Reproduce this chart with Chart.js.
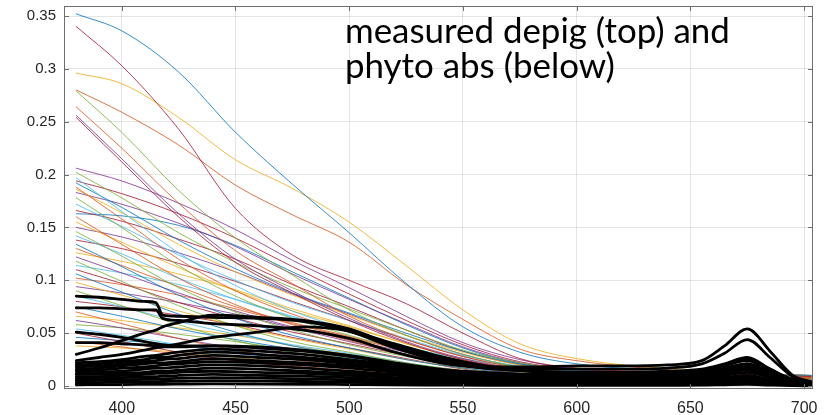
<!DOCTYPE html>
<html><head><meta charset="utf-8">
<script src="https://cdn.jsdelivr.net/npm/chart.js@4.4.0/dist/chart.umd.min.js"></script>
<style>html,body{margin:0;padding:0;background:#fff}#wrap{width:830px;height:415px;position:relative}</style>
</head><body><div id="wrap"><canvas id="c" width="830" height="415"></canvas></div>
<script>
// ---- data ----
const xTicks = [400, 450, 500, 550, 600, 650, 700];
const yTicks = [0, 0.05, 0.1, 0.15, 0.2, 0.25, 0.3, 0.35];
const yTickLabels = ["0", "0.05", "0.1", "0.15", "0.2", "0.25", "0.3", "0.35"];
const annotationLines = ["measured depig (top) and", "phyto abs (below)"];

// depigmented absorption (coloured lines)
const depigWl = [380, 400, 425, 450, 475, 500, 525, 550, 575, 600, 650, 703];
const depigTop = [
  [0.352,0.336,0.297,0.240,0.191,0.145,0.097,0.056,0.032,0.021,0.014,0.010],
  [0.340,0.303,0.243,0.168,0.124,0.100,0.078,0.050,0.026,0.017,0.013,0.009],
  [0.296,0.286,0.254,0.214,0.187,0.155,0.114,0.072,0.040,0.026,0.015,0.010],
  [0.280,0.259,0.228,0.190,0.162,0.136,0.096,0.063,0.035,0.024,0.014,0.009],
  [0.279,0.240,0.185,0.140,0.105,0.072,0.048,0.030,0.018,0.012,0.008,0.006],
  [0.264,0.225,0.173,0.128,0.097,0.066,0.044,0.028,0.017,0.011,0.008,0.006],
  [0.256,0.215,0.163,0.120,0.090,0.064,0.042,0.026,0.016,0.011,0.008,0.006],
  [0.254,0.212,0.160,0.117,0.088,0.062,0.041,0.025,0.015,0.010,0.007,0.005]
];
const depigMass = [
  [0.206,0.194,0.173,0.148,0.119,0.093,0.066,0.041,0.025,0.016,0.012,0.010],
  [0.202,0.178,0.145,0.117,0.093,0.073,0.053,0.034,0.022,0.016,0.012,0.010],
  [0.197,0.165,0.126,0.095,0.071,0.053,0.037,0.026,0.018,0.014,0.010,0.009],
  [0.194,0.182,0.163,0.140,0.113,0.087,0.062,0.039,0.023,0.016,0.012,0.010],
  [0.192,0.169,0.138,0.111,0.088,0.069,0.050,0.033,0.021,0.015,0.012,0.010],
  [0.188,0.158,0.120,0.090,0.068,0.051,0.036,0.024,0.017,0.013,0.009,0.008],
  [0.186,0.164,0.134,0.108,0.086,0.067,0.048,0.032,0.020,0.015,0.011,0.009],
  [0.183,0.172,0.154,0.132,0.106,0.082,0.059,0.037,0.022,0.015,0.011,0.009],
  [0.178,0.150,0.114,0.085,0.064,0.048,0.034,0.023,0.016,0.012,0.009,0.008],
  [0.172,0.151,0.124,0.100,0.079,0.062,0.045,0.029,0.019,0.014,0.010,0.009],
  [0.166,0.156,0.139,0.120,0.096,0.075,0.053,0.033,0.020,0.013,0.010,0.008],
  [0.163,0.161,0.152,0.133,0.108,0.083,0.058,0.036,0.021,0.014,0.010,0.008],
  [0.160,0.134,0.102,0.077,0.058,0.043,0.030,0.021,0.014,0.011,0.008,0.007],
  [0.155,0.136,0.112,0.090,0.071,0.056,0.040,0.026,0.017,0.012,0.009,0.008],
  [0.150,0.141,0.126,0.108,0.087,0.068,0.048,0.030,0.018,0.012,0.009,0.008],
  [0.146,0.123,0.093,0.070,0.053,0.039,0.028,0.019,0.013,0.010,0.007,0.007],
  [0.142,0.125,0.102,0.082,0.065,0.051,0.037,0.024,0.016,0.011,0.009,0.007],
  [0.138,0.130,0.116,0.099,0.080,0.062,0.044,0.028,0.017,0.011,0.008,0.007],
  [0.134,0.113,0.086,0.064,0.048,0.036,0.025,0.017,0.012,0.009,0.007,0.006],
  [0.130,0.114,0.094,0.075,0.060,0.047,0.034,0.022,0.014,0.010,0.008,0.007],
  [0.126,0.118,0.106,0.091,0.073,0.057,0.040,0.025,0.015,0.010,0.008,0.006],
  [0.122,0.107,0.088,0.071,0.056,0.044,0.032,0.021,0.013,0.010,0.007,0.006],
  [0.118,0.099,0.076,0.057,0.042,0.032,0.022,0.015,0.011,0.008,0.006,0.005],
  [0.114,0.107,0.096,0.082,0.066,0.051,0.036,0.023,0.014,0.009,0.007,0.006],
  [0.110,0.097,0.079,0.064,0.051,0.040,0.029,0.019,0.012,0.009,0.007,0.006],
  [0.106,0.089,0.068,0.051,0.038,0.029,0.020,0.014,0.010,0.007,0.005,0.005],
  [0.102,0.096,0.086,0.073,0.059,0.046,0.033,0.020,0.012,0.008,0.006,0.005],
  [0.098,0.086,0.071,0.057,0.045,0.035,0.025,0.017,0.011,0.008,0.006,0.005],
  [0.094,0.088,0.079,0.068,0.055,0.042,0.030,0.019,0.011,0.008,0.006,0.005],
  [0.090,0.076,0.058,0.043,0.032,0.024,0.017,0.012,0.008,0.006,0.005,0.004],
  [0.085,0.075,0.061,0.049,0.039,0.031,0.022,0.014,0.009,0.007,0.005,0.004],
  [0.080,0.075,0.067,0.058,0.046,0.036,0.026,0.016,0.010,0.006,0.005,0.004],
  [0.075,0.066,0.054,0.044,0.035,0.027,0.020,0.013,0.008,0.006,0.005,0.004],
  [0.070,0.059,0.045,0.034,0.025,0.019,0.013,0.009,0.006,0.005,0.004,0.003],
  [0.066,0.062,0.055,0.048,0.038,0.030,0.021,0.013,0.008,0.005,0.004,0.003],
  [0.062,0.055,0.045,0.036,0.029,0.022,0.016,0.011,0.007,0.005,0.004,0.003],
  [0.058,0.055,0.049,0.042,0.034,0.026,0.019,0.012,0.007,0.005,0.003,0.003],
  [0.054,0.048,0.039,0.031,0.025,0.019,0.014,0.009,0.006,0.004,0.003,0.003],
  [0.050,0.042,0.032,0.024,0.018,0.014,0.010,0.007,0.005,0.004,0.003,0.002],
  [0.046,0.043,0.039,0.033,0.027,0.021,0.015,0.009,0.006,0.004,0.003,0.002],
  [0.042,0.037,0.030,0.024,0.019,0.015,0.011,0.007,0.005,0.003,0.003,0.002],
  [0.038,0.036,0.032,0.027,0.022,0.017,0.012,0.008,0.005,0.003,0.002,0.002]
];

// phytoplankton absorption (black lines)
const phytoWl = [380,390,400,410,415,418,425,440,460,480,500,520,540,560,580,600,620,640,655,665,675,685,695,703];
const phytoUpper = [
  [0.085,0.084,0.082,0.080,0.079,0.067,0.066,0.065,0.064,0.061,0.052,0.036,0.024,0.018,0.018,0.019,0.019,0.020,0.024,0.038,0.054,0.033,0.010,0.004],
  [0.074,0.074,0.073,0.072,0.072,0.064,0.062,0.059,0.057,0.053,0.045,0.032,0.022,0.017,0.016,0.016,0.016,0.017,0.021,0.031,0.044,0.027,0.009,0.004],
  [0.030,0.036,0.043,0.050,0.053,0.056,0.060,0.067,0.065,0.062,0.054,0.038,0.026,0.017,0.014,0.013,0.013,0.014,0.016,0.021,0.027,0.016,0.006,0.003],
  [0.024,0.027,0.030,0.034,0.036,0.037,0.040,0.046,0.051,0.056,0.052,0.040,0.028,0.019,0.014,0.012,0.012,0.013,0.015,0.020,0.025,0.015,0.006,0.003],
  [0.051,0.049,0.046,0.042,0.040,0.039,0.038,0.038,0.036,0.033,0.028,0.021,0.015,0.011,0.009,0.008,0.008,0.009,0.011,0.015,0.019,0.011,0.004,0.002],
  [0.041,0.041,0.040,0.039,0.038,0.037,0.037,0.038,0.037,0.034,0.029,0.022,0.016,0.012,0.010,0.009,0.009,0.010,0.012,0.016,0.021,0.012,0.005,0.002]
];
const phytoMass = [
  [0.022,0.023,0.025,0.028,0.029,0.030,0.032,0.035,0.033,0.030,0.025,0.020,0.015,0.013,0.011,0.011,0.011,0.012,0.015,0.020,0.026,0.016,0.006,0.0035],
  [0.020,0.021,0.023,0.025,0.027,0.027,0.029,0.032,0.030,0.027,0.023,0.018,0.014,0.012,0.010,0.010,0.010,0.011,0.013,0.019,0.024,0.014,0.006,0.003],
  [0.018,0.019,0.021,0.023,0.024,0.025,0.026,0.029,0.027,0.025,0.021,0.016,0.013,0.010,0.009,0.009,0.009,0.010,0.012,0.017,0.021,0.013,0.005,0.003],
  [0.016,0.017,0.019,0.021,0.022,0.022,0.023,0.026,0.024,0.022,0.019,0.015,0.011,0.009,0.008,0.008,0.008,0.009,0.011,0.015,0.019,0.012,0.005,0.003],
  [0.014,0.015,0.017,0.018,0.019,0.020,0.021,0.023,0.022,0.020,0.017,0.013,0.010,0.008,0.007,0.007,0.007,0.008,0.010,0.013,0.017,0.010,0.004,0.002],
  [0.012,0.013,0.014,0.016,0.017,0.017,0.018,0.020,0.019,0.017,0.014,0.011,0.009,0.007,0.006,0.006,0.006,0.007,0.008,0.012,0.015,0.009,0.004,0.002],
  [0.011,0.011,0.012,0.013,0.014,0.014,0.015,0.017,0.016,0.014,0.012,0.010,0.007,0.006,0.005,0.005,0.005,0.006,0.007,0.010,0.013,0.008,0.003,0.002],
  [0.009,0.009,0.010,0.011,0.012,0.012,0.013,0.014,0.013,0.012,0.010,0.008,0.006,0.005,0.0045,0.0043,0.0043,0.0048,0.006,0.008,0.010,0.006,0.0025,0.0014],
  [0.007,0.0073,0.008,0.0087,0.009,0.0094,0.010,0.011,0.010,0.0094,0.008,0.006,0.0048,0.004,0.0035,0.0034,0.0034,0.0037,0.0046,0.0064,0.0081,0.005,0.002,0.0011],
  [0.005,0.0053,0.0058,0.0063,0.0066,0.0068,0.0072,0.008,0.0075,0.0068,0.0058,0.0045,0.0035,0.0029,0.0026,0.0025,0.0025,0.0027,0.0034,0.0046,0.0059,0.0036,0.0014,0.0008],
  [0.003,0.0033,0.0036,0.004,0.0042,0.0043,0.0045,0.005,0.0047,0.0043,0.0036,0.0028,0.0022,0.0018,0.0016,0.0016,0.0016,0.0017,0.0021,0.0029,0.0037,0.0023,0.0009,0.0005],
  [0.0012,0.0013,0.0014,0.0016,0.0017,0.0017,0.0018,0.002,0.0019,0.0017,0.0014,0.0011,0.0009,0.0007,0.0006,0.0006,0.0006,0.0007,0.0008,0.0012,0.0015,0.0009,0.0004,0.0002]
];

// ---- styles ----
const palette = ['rgba(0,114,189,0.8)','rgba(217,83,25,0.8)','rgba(237,177,32,0.85)','rgba(126,47,142,0.8)','rgba(119,172,48,0.8)','rgba(77,190,238,0.85)','rgba(162,20,47,0.8)'];
const topColors = [palette[0], palette[6], palette[2], palette[1], palette[4], palette[1], palette[3], palette[6]];

function pts(wl, vals){ return vals.map((v,i)=>({x:wl[i], y:v})); }

const datasets = [];
depigTop.forEach((s,i)=>datasets.push({data:pts(depigWl,s), borderColor:topColors[i], borderWidth:1, order:2}));
depigMass.forEach((s,i)=>datasets.push({data:pts(depigWl,s), borderColor:palette[(i+3)%7], borderWidth:1, order:2}));
phytoMass.forEach(s=>datasets.push({data:pts(phytoWl,s), borderColor:'#000', borderWidth:2.8, order:1}));
phytoUpper.forEach(s=>datasets.push({data:pts(phytoWl,s), borderColor:'#000', borderWidth:2.8, order:0}));

const boxPlugin = {
  id:'box',
  afterDraw(chart){
    const {ctx, chartArea:a, scales:{x,y}} = chart;
    ctx.save();
    ctx.strokeStyle = '#6e6e6e'; ctx.lineWidth = 1;
    ctx.strokeRect(a.left+0.5, a.top+0.5, a.right-a.left-1, a.bottom-a.top-1);
    ctx.beginPath();
    xTicks.forEach(v=>{ const px = Math.round(x.getPixelForValue(v))+0.5;
      ctx.moveTo(px,a.bottom); ctx.lineTo(px,a.bottom-5);
      ctx.moveTo(px,a.top); ctx.lineTo(px,a.top+5); });
    yTicks.forEach(v=>{ const py = Math.round(y.getPixelForValue(v))+0.5;
      ctx.moveTo(a.left,py); ctx.lineTo(a.left+5,py);
      ctx.moveTo(a.right,py); ctx.lineTo(a.right-5,py); });
    ctx.stroke();
    // annotation text
    const target = 385;
    ctx.font = '32px Lato';
    const w = ctx.measureText(annotationLines[0]).width;
    const fs = 32*target/w;
    ctx.font = fs.toFixed(1)+'px Lato';
    ctx.fillStyle = '#000'; ctx.textAlign='left'; ctx.textBaseline='alphabetic';
    ctx.fillText(annotationLines[0], 345, 43);
    ctx.fillText(annotationLines[1], 345, 78);
    ctx.restore();
  }
};

new Chart(document.getElementById('c'), {
  type:'line',
  data:{datasets},
  options:{
    responsive:false, animation:false, devicePixelRatio:1,
    layout:{padding:{left:0,right:17,top:6,bottom:0}},
    elements:{point:{radius:0}, line:{cubicInterpolationMode:'monotone', borderCapStyle:'round', borderJoinStyle:'round'}},
    plugins:{legend:{display:false}, tooltip:{enabled:false}},
    scales:{
      x:{type:'linear', min:374.6, max:703.9,
        afterBuildTicks:s=>{s.ticks = xTicks.map(v=>({value:v}));},
        afterFit:s=>{s.height = 26; s.paddingLeft = 0; s.paddingRight = 0;},
        grid:{color:'rgba(0,0,0,0.1)', drawTicks:false},
        border:{display:false},
        ticks:{padding:10, color:'#262626', font:{family:'Liberation Sans', size:16}, maxRotation:0, autoSkip:false}},
      y:{min:-0.0028, max:0.3595,
        afterBuildTicks:s=>{s.ticks = yTicks.map(v=>({value:v}));},
        afterFit:s=>{s.width = 64; s.paddingTop = 0; s.paddingBottom = 0;},
        grid:{color:'rgba(0,0,0,0.1)', drawTicks:false},
        border:{display:false},
        ticks:{padding:8, color:'#262626', font:{family:'Liberation Sans', size:15},
          callback:(v,i)=>yTickLabels[i]}}
    }
  },
  plugins:[boxPlugin]
});
</script>
</body></html>
